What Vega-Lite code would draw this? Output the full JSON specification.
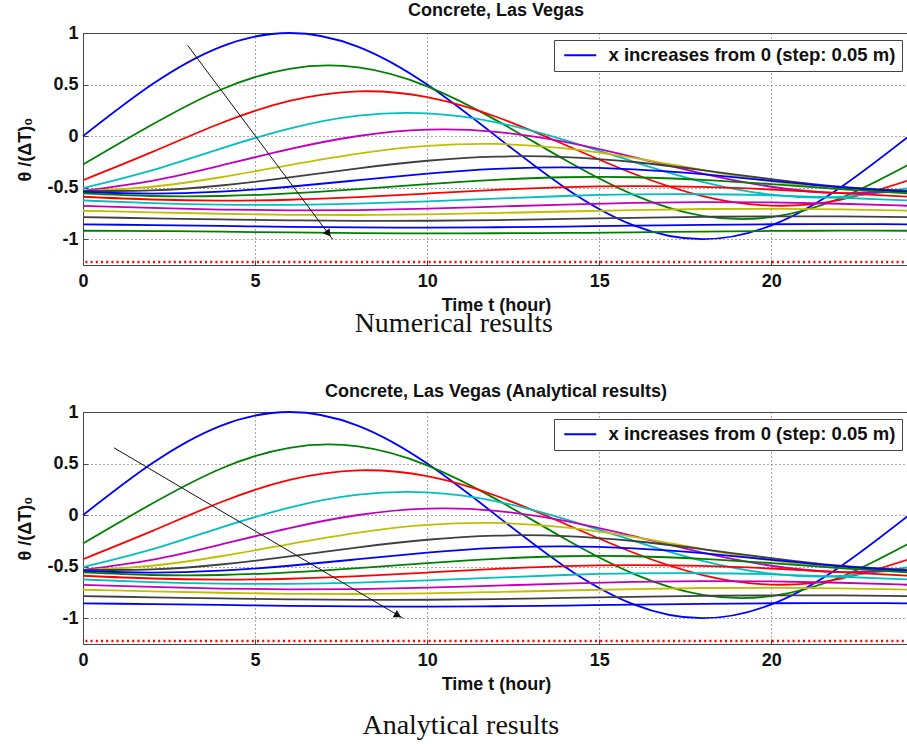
{
  "$schema": "https://vega.github.io/schema/vega-lite/v6.json",
  "padding": {"left": 16, "top": 1, "right": 0, "bottom": 0},
  "background": "white",
  "config": {
    "font": "Liberation Sans",
    "view": {"stroke": "#444444", "strokeWidth": 1},
    "axis": {
      "labelFont": "Liberation Sans", "labelFontSize": 18, "labelFontWeight": "bold", "labelColor": "#111111",
      "titleFont": "Liberation Sans", "titleFontSize": 18, "titleFontWeight": "bold", "titleColor": "#111111",
      "grid": true, "gridDash": [1, 3], "gridColor": "#555555", "gridWidth": 1,
      "domain": false, "ticks": true, "tickSize": -5, "tickColor": "#444444"
    },
    "title": {"font": "Liberation Sans", "fontSize": 18, "fontWeight": "bold", "color": "#111111"}
  },
  "datasets": {
    "curves": [
      {"k":0,"t":0,"v":0},{"k":0,"t":2,"v":0.5},{"k":0,"t":4,"v":0.866},{"k":0,"t":6,"v":1},{"k":0,"t":8,"v":0.866},{"k":0,"t":10,"v":0.5},{"k":0,"t":12,"v":0},{"k":0,"t":14,"v":-0.5},{"k":0,"t":16,"v":-0.866},{"k":0,"t":18,"v":-1},{"k":0,"t":20,"v":-0.866},{"k":0,"t":22,"v":-0.5},{"k":0,"t":24,"v":0},
      {"k":1,"t":0,"v":-0.275},{"k":1,"t":2,"v":0.11},{"k":1,"t":4,"v":0.45},{"k":1,"t":6,"v":0.653},{"k":1,"t":8,"v":0.666},{"k":1,"t":10,"v":0.483},{"k":1,"t":12,"v":0.155},{"k":1,"t":14,"v":-0.23},{"k":1,"t":16,"v":-0.57},{"k":1,"t":18,"v":-0.773},{"k":1,"t":20,"v":-0.786},{"k":1,"t":22,"v":-0.603},{"k":1,"t":24,"v":-0.275},
      {"k":2,"t":0,"v":-0.428},{"k":2,"t":2,"v":-0.156},{"k":2,"t":4,"v":0.125},{"k":2,"t":6,"v":0.341},{"k":2,"t":8,"v":0.434},{"k":2,"t":10,"v":0.378},{"k":2,"t":12,"v":0.188},{"k":2,"t":14,"v":-0.084},{"k":2,"t":16,"v":-0.365},{"k":2,"t":18,"v":-0.581},{"k":2,"t":20,"v":-0.674},{"k":2,"t":22,"v":-0.618},{"k":2,"t":24,"v":-0.428},
      {"k":3,"t":0,"v":-0.504},{"k":3,"t":2,"v":-0.332},{"k":3,"t":4,"v":-0.121},{"k":3,"t":6,"v":0.073},{"k":3,"t":8,"v":0.198},{"k":3,"t":10,"v":0.22},{"k":3,"t":12,"v":0.134},{"k":3,"t":14,"v":-0.038},{"k":3,"t":16,"v":-0.249},{"k":3,"t":18,"v":-0.443},{"k":3,"t":20,"v":-0.568},{"k":3,"t":22,"v":-0.59},{"k":3,"t":24,"v":-0.504},
      {"k":4,"t":0,"v":-0.531},{"k":4,"t":2,"v":-0.434},{"k":4,"t":4,"v":-0.286},{"k":4,"t":6,"v":-0.126},{"k":4,"t":8,"v":0.001},{"k":4,"t":10,"v":0.062},{"k":4,"t":12,"v":0.041},{"k":4,"t":14,"v":-0.056},{"k":4,"t":16,"v":-0.204},{"k":4,"t":18,"v":-0.364},{"k":4,"t":20,"v":-0.491},{"k":4,"t":22,"v":-0.552},{"k":4,"t":24,"v":-0.531},
      {"k":5,"t":0,"v":-0.534},{"k":5,"t":2,"v":-0.491},{"k":5,"t":4,"v":-0.399},{"k":5,"t":6,"v":-0.281},{"k":5,"t":8,"v":-0.17},{"k":5,"t":10,"v":-0.095},{"k":5,"t":12,"v":-0.076},{"k":5,"t":14,"v":-0.119},{"k":5,"t":16,"v":-0.211},{"k":5,"t":18,"v":-0.329},{"k":5,"t":20,"v":-0.44},{"k":5,"t":22,"v":-0.515},{"k":5,"t":24,"v":-0.534},
      {"k":6,"t":0,"v":-0.531},{"k":6,"t":2,"v":-0.527},{"k":6,"t":4,"v":-0.479},{"k":6,"t":6,"v":-0.4},{"k":6,"t":8,"v":-0.312},{"k":6,"t":10,"v":-0.239},{"k":6,"t":12,"v":-0.199},{"k":6,"t":14,"v":-0.203},{"k":6,"t":16,"v":-0.251},{"k":6,"t":18,"v":-0.33},{"k":6,"t":20,"v":-0.418},{"k":6,"t":22,"v":-0.491},{"k":6,"t":24,"v":-0.531},
      {"k":7,"t":0,"v":-0.542},{"k":7,"t":2,"v":-0.557},{"k":7,"t":4,"v":-0.538},{"k":7,"t":6,"v":-0.491},{"k":7,"t":8,"v":-0.427},{"k":7,"t":10,"v":-0.364},{"k":7,"t":12,"v":-0.318},{"k":7,"t":14,"v":-0.303},{"k":7,"t":16,"v":-0.322},{"k":7,"t":18,"v":-0.369},{"k":7,"t":20,"v":-0.433},{"k":7,"t":22,"v":-0.496},{"k":7,"t":24,"v":-0.542},
      {"k":8,"t":0,"v":-0.556},{"k":8,"t":2,"v":-0.581},{"k":8,"t":4,"v":-0.581},{"k":8,"t":6,"v":-0.556},{"k":8,"t":8,"v":-0.514},{"k":8,"t":10,"v":-0.466},{"k":8,"t":12,"v":-0.424},{"k":8,"t":14,"v":-0.399},{"k":8,"t":16,"v":-0.399},{"k":8,"t":18,"v":-0.424},{"k":8,"t":20,"v":-0.466},{"k":8,"t":22,"v":-0.514},{"k":8,"t":24,"v":-0.556},
      {"k":9,"t":0,"v":-0.588},{"k":9,"t":2,"v":-0.615},{"k":9,"t":4,"v":-0.625},{"k":9,"t":6,"v":-0.617},{"k":9,"t":8,"v":-0.592},{"k":9,"t":10,"v":-0.557},{"k":9,"t":12,"v":-0.522},{"k":9,"t":14,"v":-0.495},{"k":9,"t":16,"v":-0.485},{"k":9,"t":18,"v":-0.493},{"k":9,"t":20,"v":-0.518},{"k":9,"t":22,"v":-0.553},{"k":9,"t":24,"v":-0.588},
      {"k":10,"t":0,"v":-0.624},{"k":10,"t":2,"v":-0.649},{"k":10,"t":4,"v":-0.664},{"k":10,"t":6,"v":-0.666},{"k":10,"t":8,"v":-0.655},{"k":10,"t":10,"v":-0.632},{"k":10,"t":12,"v":-0.606},{"k":10,"t":14,"v":-0.581},{"k":10,"t":16,"v":-0.566},{"k":10,"t":18,"v":-0.564},{"k":10,"t":20,"v":-0.575},{"k":10,"t":22,"v":-0.598},{"k":10,"t":24,"v":-0.624},
      {"k":11,"t":0,"v":-0.676},{"k":11,"t":2,"v":-0.696},{"k":11,"t":4,"v":-0.712},{"k":11,"t":6,"v":-0.72},{"k":11,"t":8,"v":-0.717},{"k":11,"t":10,"v":-0.704},{"k":11,"t":12,"v":-0.684},{"k":11,"t":14,"v":-0.664},{"k":11,"t":16,"v":-0.648},{"k":11,"t":18,"v":-0.64},{"k":11,"t":20,"v":-0.643},{"k":11,"t":22,"v":-0.656},{"k":11,"t":24,"v":-0.676},
      {"k":12,"t":0,"v":-0.724},{"k":12,"t":2,"v":-0.739},{"k":12,"t":4,"v":-0.753},{"k":12,"t":6,"v":-0.763},{"k":12,"t":8,"v":-0.765},{"k":12,"t":10,"v":-0.759},{"k":12,"t":12,"v":-0.746},{"k":12,"t":14,"v":-0.731},{"k":12,"t":16,"v":-0.717},{"k":12,"t":18,"v":-0.707},{"k":12,"t":20,"v":-0.705},{"k":12,"t":22,"v":-0.711},{"k":12,"t":24,"v":-0.724},
      {"k":13,"t":0,"v":-0.786},{"k":13,"t":2,"v":-0.797},{"k":13,"t":4,"v":-0.808},{"k":13,"t":6,"v":-0.817},{"k":13,"t":8,"v":-0.822},{"k":13,"t":10,"v":-0.821},{"k":13,"t":12,"v":-0.814},{"k":13,"t":14,"v":-0.803},{"k":13,"t":16,"v":-0.792},{"k":13,"t":18,"v":-0.783},{"k":13,"t":20,"v":-0.778},{"k":13,"t":22,"v":-0.779},{"k":13,"t":24,"v":-0.786},
      {"k":14,"t":0,"v":-0.856},{"k":14,"t":2,"v":-0.863},{"k":14,"t":4,"v":-0.871},{"k":14,"t":6,"v":-0.88},{"k":14,"t":8,"v":-0.885},{"k":14,"t":10,"v":-0.887},{"k":14,"t":12,"v":-0.884},{"k":14,"t":14,"v":-0.877},{"k":14,"t":16,"v":-0.869},{"k":14,"t":18,"v":-0.86},{"k":14,"t":20,"v":-0.855},{"k":14,"t":22,"v":-0.853},{"k":14,"t":24,"v":-0.856},
      {"k":15,"t":0,"v":-0.918},{"k":15,"t":2,"v":-0.921},{"k":15,"t":4,"v":-0.927},{"k":15,"t":6,"v":-0.934},{"k":15,"t":8,"v":-0.94},{"k":15,"t":10,"v":-0.943},{"k":15,"t":12,"v":-0.942},{"k":15,"t":14,"v":-0.939},{"k":15,"t":16,"v":-0.933},{"k":15,"t":18,"v":-0.926},{"k":15,"t":20,"v":-0.92},{"k":15,"t":22,"v":-0.917},{"k":15,"t":24,"v":-0.918}
    ],
    "arrowN": [{"t": 3.04, "v": 0.88}, {"t": 7.25, "v": -1.0}],
    "arrowNHead": [{"t": 7.13, "v": -0.945}],
    "arrowA": [{"t": 0.9, "v": 0.653}, {"t": 9.3, "v": -1.0}],
    "arrowAHead": [{"t": 9.15, "v": -0.972}],
    "baseline": [{"v": -1.22}]
  },
  "resolve": {"scale": {"color": "independent", "x": "independent", "y": "independent"}, "legend": {"color": "independent"}},
  "spacing": 44,
  "vconcat": [
    {
      "title": {"text": "Numerical results", "orient": "bottom", "font": "Liberation Serif", "fontSize": 28, "fontWeight": "normal", "color": "#111111", "offset": -5, "anchor": "middle", "dx": -11},
      "resolve": {"scale": {"color": "independent", "x": "independent", "y": "independent"}, "legend": {"color": "independent"}},
      "vconcat": [
        {
          "title": {"text": "Concrete, Las Vegas", "frame": "group", "anchor": "middle", "offset": 4},
          "width": 826, "height": 232,
          "layer": [
            {
              "data": {"name": "curves"},
              "mark": {"type": "line", "interpolate": "natural", "strokeWidth": 1.8},
              "encoding": {
                "x": {"field": "t", "type": "quantitative", "scale": {"domain": [0, 24], "nice": false, "zero": false},
                      "axis": {"values": [0, 5, 10, 15, 20], "title": "Time t (hour)", "labelFlush": false, "labelPadding": 12, "titlePadding": 6, "labelExpr": "datum.value"}},
                "y": {"field": "v", "type": "quantitative", "scale": {"domain": [-1.25, 1], "nice": false, "zero": false},
                      "axis": {"values": [-1, -0.5, 0, 0.5, 1], "title": "θ /(ΔT)₀", "labelPadding": 10, "titlePadding": 12, "labelExpr": "datum.value"}},
                "color": {"field": "k", "type": "nominal",
                  "scale": {"domain": [0,1,2,3,4,5,6,7,8,9,10,11,12,13,14,15],
                            "range": ["#0000ff","#008000","#ff0000","#00bfbf","#bf00bf","#bfbf00","#404040","#0000ff","#008000","#ff0000","#00bfbf","#bf00bf","#bfbf00","#404040","#0000ff","#008000"]},
                  "legend": {"values": [0], "title": null, "orient": "top-right", "offset": 7,
                    "labelExpr": "'x increases from 0 (step: 0.05 m)\u2002\u2002'", "labelLimit": 400,
                    "labelFont": "Liberation Sans", "labelFontSize": 18.5, "labelFontWeight": "bold", "labelColor": "#111111",
                    "symbolType": "M-3,0H3", "symbolSize": 114, "symbolStrokeWidth": 1.8, "symbolOffset": 11, "labelOffset": 19,
                    "padding": 6, "strokeColor": "#444444", "fillColor": "white", "cornerRadius": 0}}
              }
            },
            {
              "data": {"name": "baseline"},
              "mark": {"type": "rule", "color": "#ff0000", "strokeDash": [2, 3.2], "strokeWidth": 2.5},
              "encoding": {"y": {"field": "v", "type": "quantitative"}}
            },
            {
              "data": {"name": "arrowN"},
              "mark": {"type": "line", "color": "#111111", "strokeWidth": 1},
              "encoding": {"x": {"field": "t", "type": "quantitative"}, "y": {"field": "v", "type": "quantitative"}}
            },
            {
              "data": {"name": "arrowNHead"},
              "mark": {"type": "point", "shape": "triangle-up", "filled": true, "color": "#111111", "opacity": 1, "size": 70, "angle": 143},
              "encoding": {"x": {"field": "t", "type": "quantitative"}, "y": {"field": "v", "type": "quantitative"}}
            }
          ]
        }
      ]
    },
    {
      "title": {"text": "Analytical results", "orient": "bottom", "font": "Liberation Serif", "fontSize": 28, "fontWeight": "normal", "color": "#111111", "offset": 18, "anchor": "middle", "dx": -4},
      "resolve": {"scale": {"color": "independent", "x": "independent", "y": "independent"}, "legend": {"color": "independent"}},
      "vconcat": [
        {
          "title": {"text": "Concrete, Las Vegas (Analytical results)", "frame": "group", "anchor": "middle", "offset": 2},
          "width": 826, "height": 232,
          "layer": [
            {
              "data": {"name": "curves"},
              "transform": [{"filter": "datum.k <= 14"}],
              "mark": {"type": "line", "interpolate": "natural", "strokeWidth": 1.8},
              "encoding": {
                "x": {"field": "t", "type": "quantitative", "scale": {"domain": [0, 24], "nice": false, "zero": false},
                      "axis": {"values": [0, 5, 10, 15, 20], "title": "Time t (hour)", "labelFlush": false, "labelPadding": 12, "titlePadding": 6, "labelExpr": "datum.value"}},
                "y": {"field": "v", "type": "quantitative", "scale": {"domain": [-1.25, 1], "nice": false, "zero": false},
                      "axis": {"values": [-1, -0.5, 0, 0.5, 1], "title": "θ /(ΔT)₀", "labelPadding": 10, "titlePadding": 12, "labelExpr": "datum.value"}},
                "color": {"field": "k", "type": "nominal",
                  "scale": {"domain": [0,1,2,3,4,5,6,7,8,9,10,11,12,13,14],
                            "range": ["#0000ff","#008000","#ff0000","#00bfbf","#bf00bf","#bfbf00","#404040","#0000ff","#008000","#ff0000","#00bfbf","#bf00bf","#bfbf00","#404040","#0000ff"]},
                  "legend": {"values": [0], "title": null, "orient": "top-right", "offset": 7,
                    "labelExpr": "'x increases from 0 (step: 0.05 m)\u2002\u2002'", "labelLimit": 400,
                    "labelFont": "Liberation Sans", "labelFontSize": 18.5, "labelFontWeight": "bold", "labelColor": "#111111",
                    "symbolType": "M-3,0H3", "symbolSize": 114, "symbolStrokeWidth": 1.8, "symbolOffset": 11, "labelOffset": 19,
                    "padding": 6, "strokeColor": "#444444", "fillColor": "white", "cornerRadius": 0}}
              }
            },
            {
              "data": {"name": "baseline"},
              "mark": {"type": "rule", "color": "#ff0000", "strokeDash": [2, 3.2], "strokeWidth": 2.5},
              "encoding": {"y": {"field": "v", "type": "quantitative"}}
            },
            {
              "data": {"name": "arrowA"},
              "mark": {"type": "line", "color": "#111111", "strokeWidth": 1},
              "encoding": {"x": {"field": "t", "type": "quantitative"}, "y": {"field": "v", "type": "quantitative"}}
            },
            {
              "data": {"name": "arrowAHead"},
              "mark": {"type": "point", "shape": "triangle-up", "filled": true, "color": "#111111", "opacity": 1, "size": 70, "angle": 120},
              "encoding": {"x": {"field": "t", "type": "quantitative"}, "y": {"field": "v", "type": "quantitative"}}
            }
          ]
        }
      ]
    }
  ]
}
